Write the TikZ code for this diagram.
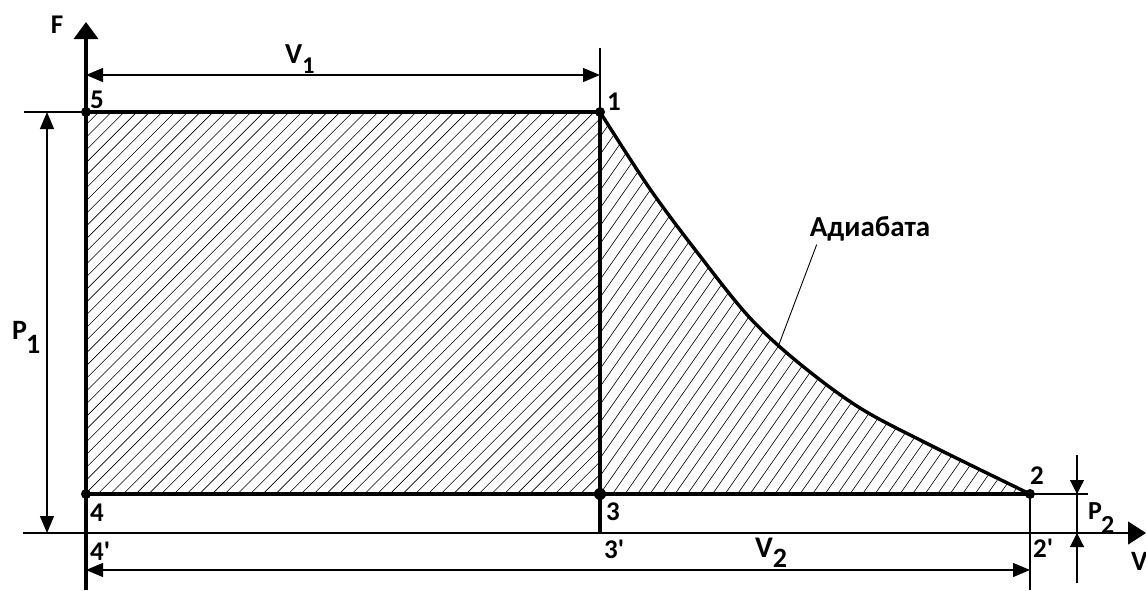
\documentclass[tikz,border=0pt]{standalone}
\usepackage{fontspec}
\setmainfont{Carlito}
\usetikzlibrary{arrows.meta}
\begin{document}
\begin{tikzpicture}[x=1pt,y=-1pt,
  thickln/.style={line width=3.4pt},
  thinln/.style={line width=1.2pt},
  hatchln/.style={line width=0.6pt},
  dimarrow/.style={thinln,{Triangle[length=17pt,width=14pt]}-{Triangle[length=17pt,width=14pt]}},
  onearrow/.style={thinln,-{Triangle[length=14pt,width=14pt]}},
  lbl/.style={font=\bfseries\fontsize{27}{27}\selectfont,inner sep=0pt},
  biglbl/.style={font=\bfseries\fontsize{29}{29}\selectfont,inner sep=0pt},
  ptdot/.style={circle,fill,inner sep=0pt,minimum size=10pt}]
\useasboundingbox (0,0) rectangle (1146,590);

% hatching
\begin{scope}
  \clip (86,112) rectangle (600,494);
  \foreach \i in {0,...,74} \draw[hatchln] (86-420+12.7*\i,494) -- ++(420,-420);
\end{scope}
\begin{scope}
  \clip (600,494) -- plot[smooth,tension=0.55] coordinates {(600,112) (650,189) (700,256) (750,318) (800,364) (860,408) (930,445) (1030,494)} -- cycle;
  \foreach \i in {0,...,60} \draw[hatchln] (600-300+12.5*\i,494) -- ++(287,-410);
\end{scope}

% points
\node[ptdot] (p5) at (86,112) {};
\node[ptdot] (p1) at (600,112) {};
\node[ptdot,minimum size=12pt] (p3) at (600,494) {};
\node[ptdot] (p4) at (86,494) {};
\node[ptdot] (p2) at (1030,494) {};
\coordinate (p3a) at (600,533);
\coordinate (p4a) at (86,533);
\coordinate (p2a) at (1030,533);

% axes
\coordinate (fbot) at (86,590);
\coordinate (ftop) at (86,22);
\coordinate (vleft) at (23,533);
\coordinate (vright) at (1146,533);
\draw[line width=3.6pt,-{Triangle[length=17pt,width=24pt]}] (fbot) -- (ftop);
\draw[thinln,-{Triangle[length=18pt,width=23pt]}] (vleft) -- (vright);

% cycle lines
\draw[thickln] (p5.center) -- (p1.center) -- (p3a);
\draw[thickln] (p4.center) -- (p2.center);
\draw[thickln,line join=round] plot[smooth,tension=0.55] coordinates {(600,112) (650,189) (700,256) (750,318) (800,364) (860,408) (930,445) (1030,494)};

% dimension V1
\coordinate (v1a) at (86,75);
\coordinate (v1b) at (600,75);
\coordinate (v1ext) at (600,48);
\draw[thinln] (v1ext) -- (p1.center);
\draw[dimarrow] (v1a) -- (v1b);
\node[biglbl,anchor=north west] (lv1) at (285,44) {V\raisebox{-10pt}{\fontsize{24}{24}\selectfont 1}};

% dimension P1
\coordinate (p1a) at (47,112);
\coordinate (p1b) at (47,533);
\coordinate (p1ext) at (24,112);
\draw[thinln] (p1ext) -- (p5.center);
\draw[dimarrow] (p1a) -- (p1b);
\node[biglbl,font=\bfseries\fontsize{28}{28}\selectfont,anchor=north west] (lp1) at (12,321) {P\kern-1pt\raisebox{-14pt}{1}};

% dimension V2
\coordinate (v2a) at (86,570);
\coordinate (v2b) at (1030,570);
\coordinate (v2ext) at (1030,590);
\draw[thinln] (p2.center) -- (v2ext);
\draw[dimarrow] (v2a) -- (v2b);
\node[biglbl,font=\bfseries\fontsize{30}{30}\selectfont,anchor=north west] (lv2) at (755,538) {V\raisebox{-10pt}{\fontsize{28}{28}\selectfont 2}};

% dimension P2
\coordinate (p2top) at (1077,455);
\coordinate (p2bot) at (1077,583);
\coordinate (p2u) at (1077,494);
\coordinate (p2l) at (1077,533);
\coordinate (p2ext) at (1088,494);
\draw[thinln] (p2.center) -- (p2ext);
\draw[thinln] (p2top) -- (p2bot);
\draw[onearrow] (p2top) -- (p2u);
\draw[onearrow] (p2bot) -- (p2l);
\node[lbl,font=\bfseries\fontsize{26}{26}\selectfont,anchor=north west] (lp2) at (1088,502) {P\kern-1pt\raisebox{-14pt}{2}};

% axis labels
\node[lbl] (lf) at (57,25) {F};
\node[lbl,font=\bfseries\fontsize{28}{28}\selectfont,anchor=north west] (lv) at (1131,552) {V};

% point labels
\node[lbl] (l5) at (97,100) {5};
\node[lbl] (l1) at (614,102) {1};
\node[lbl] (l3) at (613,512) {3};
\node[lbl] (l4) at (97,513) {4};
\node[lbl] (l2) at (1037,476) {2};
\node[lbl,anchor=west] (l4a) at (90,551) {4\textquotesingle};
\node[lbl,anchor=west] (l3a) at (604,549) {3\textquotesingle};
\node[lbl,anchor=west] (l2a) at (1033,548) {2\textquotesingle};

% adiabat label
\node[lbl,font=\bfseries\fontsize{29}{29}\selectfont] (ad) at (870,229) {Адиабата};
\coordinate (adpt) at (778,347);
\draw[line width=0.9pt] ([xshift=7pt,yshift=-3pt]ad.south west) -- (adpt);
\end{tikzpicture}
\end{document}
